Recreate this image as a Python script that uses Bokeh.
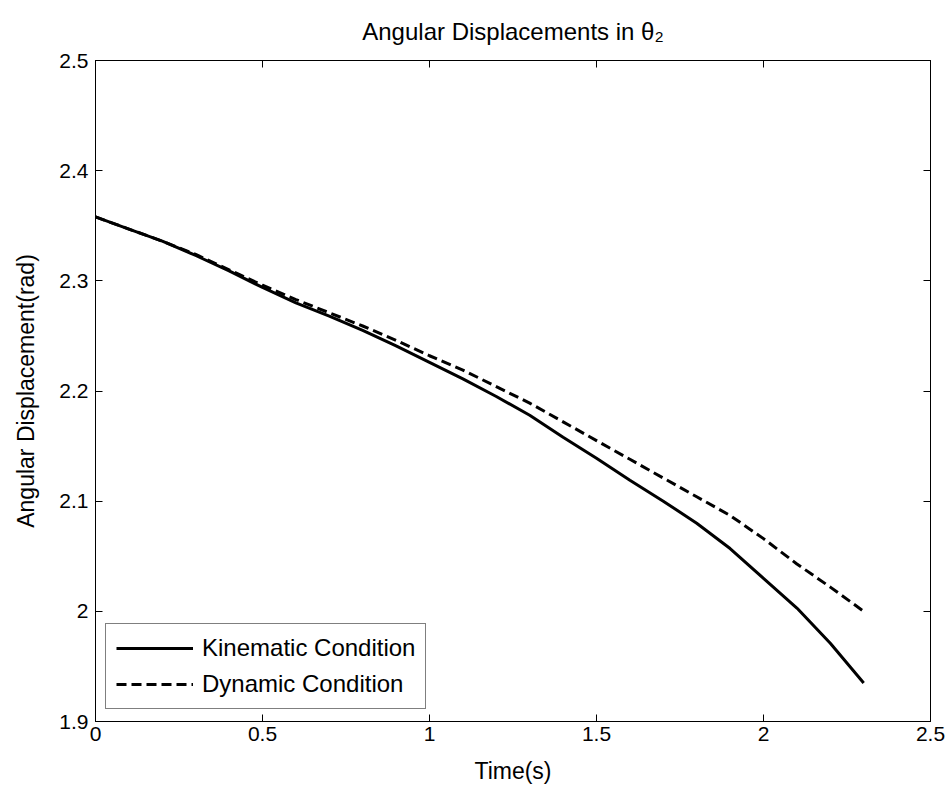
from bokeh.plotting import figure
from bokeh.models import FixedTicker, CustomJSTickFormatter, LinearAxis, Legend, LegendItem, Range1d
from bokeh.embed import file_html
from bokeh.resources import INLINE

time_s = [0.0, 0.1, 0.2, 0.3, 0.4, 0.5, 0.6, 0.7, 0.8, 0.9, 1.0, 1.1, 1.2,
          1.3, 1.4, 1.5, 1.6, 1.7, 1.8, 1.9, 2.0, 2.1, 2.2, 2.3]
kinematic = [2.358, 2.347, 2.336, 2.323, 2.309, 2.294, 2.280, 2.268, 2.255, 2.241,
             2.226, 2.211, 2.195, 2.178, 2.158, 2.139, 2.119, 2.100, 2.080, 2.057,
             2.030, 2.003, 1.971, 1.935]
dynamic = [2.358, 2.347, 2.336, 2.324, 2.310, 2.296, 2.283, 2.271, 2.259, 2.246,
           2.232, 2.219, 2.204, 2.189, 2.172, 2.155, 2.138, 2.121, 2.104, 2.087,
           2.066, 2.043, 2.022, 2.000]
x_ticks = [0, 0.5, 1, 1.5, 2, 2.5]
y_ticks = [1.9, 2.0, 2.1, 2.2, 2.3, 2.4, 2.5]

FONT = "Liberation Sans"

p = figure(width=950, height=792, output_backend="svg", toolbar_location=None,
           x_range=Range1d(0, 2.5), y_range=Range1d(1.9, 2.5),
           min_border_left=95, min_border_right=20, min_border_top=0, min_border_bottom=71,
           title="Angular Displacements in θ₂")
p.title.align = "center"
p.title.text_font = FONT
p.title.text_font_size = "24px"
p.title.text_font_style = "normal"
p.title.text_color = "black"
p.title.offset = 0
p.title.standoff = 31

p.grid.visible = False
p.outline_line_color = "black"
p.outline_line_width = 1
p.background_fill_color = "white"
p.border_fill_color = "white"

fmt = CustomJSTickFormatter(code="return String(Math.round(tick*10)/10);")

def style_axis(ax, ticks, show_labels=True):
    ax.ticker = FixedTicker(ticks=ticks)
    ax.formatter = fmt
    ax.major_tick_in = 7
    ax.major_tick_out = 0
    ax.minor_tick_in = 0
    ax.minor_tick_out = 0
    ax.axis_line_color = "black"
    ax.major_tick_line_color = "black"
    ax.major_label_text_font = FONT
    ax.major_label_text_font_size = "21px"
    ax.major_label_text_color = "black"
    ax.axis_label_text_font = FONT
    ax.axis_label_text_font_size = "23px"
    ax.axis_label_text_font_style = "normal"
    ax.axis_label_text_color = "black"
    if not show_labels:
        ax.major_label_text_alpha = 0
        ax.major_label_text_font_size = "0px"

style_axis(p.xaxis[0], x_ticks)
style_axis(p.yaxis[0], y_ticks)
p.xaxis[0].axis_label = "Time(s)"
p.yaxis[0].axis_label = "Angular Displacement(rad)"
p.xaxis[0].major_label_standoff = 5
p.yaxis[0].major_label_standoff = 7
p.xaxis[0].axis_label_standoff = 14
p.yaxis[0].axis_label_standoff = 17

top = LinearAxis()
right = LinearAxis()
style_axis(top, x_ticks, False)
style_axis(right, y_ticks, False)
p.add_layout(top, "above")
p.add_layout(right, "right")

r1 = p.line(time_s, kinematic, line_color="black", line_width=3)
r2 = p.line(time_s, dynamic, line_color="black", line_width=3, line_dash="10 5")

legend = Legend(items=[LegendItem(label="Kinematic Condition", renderers=[r1]),
                       LegendItem(label="Dynamic Condition", renderers=[r2])],
                location=(10, 12))
legend.label_text_font = FONT
legend.label_text_font_size = "24px"
legend.label_text_color = "black"
legend.glyph_width = 77
legend.glyph_height = 26
legend.label_height = 26
legend.label_standoff = 9
legend.padding = 10
legend.spacing = 8
legend.border_line_color = "black"
legend.border_line_width = 1.5
legend.background_fill_alpha = 1
legend.margin = 0
p.add_layout(legend, "center")

open("out.html", "w").write(file_html(p, INLINE))
